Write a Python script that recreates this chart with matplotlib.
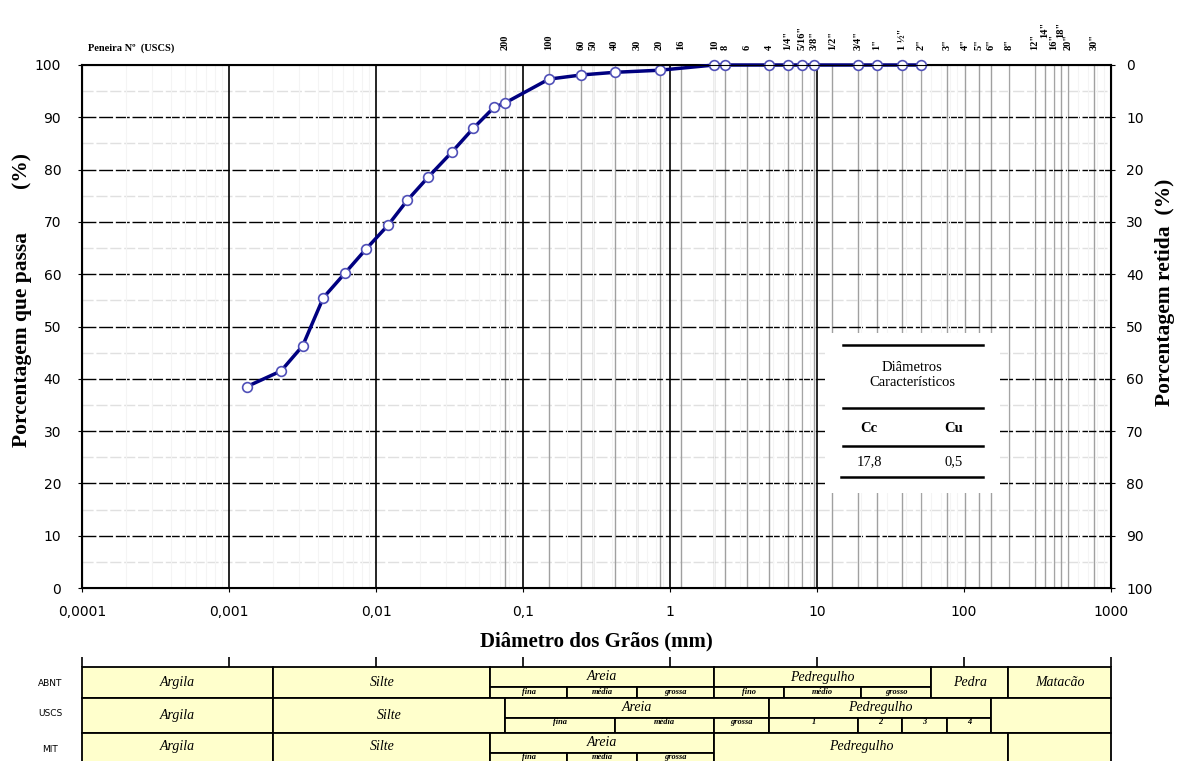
import numpy as np
import matplotlib
matplotlib.use('Agg')
import matplotlib.pyplot as plt
from matplotlib.patches import Rectangle
from matplotlib.ticker import NullFormatter, LogLocator

# curva granulométrica
diam = [0.00132, 0.00226, 0.00317, 0.00438, 0.00615, 0.00855, 0.0121, 0.0163,
        0.0227, 0.0327, 0.0459, 0.0635, 0.075, 0.15, 0.25, 0.42, 0.85, 2.0,
        2.36, 4.75, 6.35, 7.94, 9.5, 19.1, 25.4, 38.1, 50.8]
passa = [38.5, 41.5, 46.3, 55.5, 60.2, 64.8, 69.4, 74.1, 78.6, 83.3, 87.9, 91.9,
         92.7, 97.3, 98.1, 98.6, 99.0, 100, 100, 100, 100, 100, 100, 100, 100, 100, 100]

# peneiras
peneira_mm = [0.075, 0.15, 0.25, 0.30, 0.42, 0.60, 0.85, 1.18, 2.0, 2.36, 3.35, 4.75,
              6.35, 7.94, 9.5, 12.7, 19.1, 25.4, 38.1, 50.8, 76.2, 101.6, 127.0,
              152.4, 203.2, 304.8, 355.6, 406.4, 457.2, 508.0, 762.0]
peneira_lbl = ['200', '100', '60', '50', '40', '30', '20', '16', '10', '8', '6', '4',
               '1/4"', '5/16"', '3/8"', '1/2"', '3/4"', '1"', '1 ½"', '2"', '3"', '4"',
               '5"', '6"', '8"', '12"', '14"', '16"', '18"', '20"', '30"']
peneira_alto = ['14"', '18"']

decadas = [1e-4, 1e-3, 1e-2, 1e-1, 1, 10, 100, 1000]
decadas_lbl = ['0,0001', '0,001', '0,01', '0,1', '1', '10', '100', '1000']

cc_valor = '17,8'
cu_valor = '0,5'

# classificações
abnt_lim = [1e-4, 0.002, 0.06, 2.0, 60, 200, 1000]
abnt_nome = ['Argila', 'Silte', 'Areia', 'Pedregulho', 'Pedra', 'Matacão']
abnt_sub = {2: ([0.06, 0.2, 0.6, 2.0], ['fina', 'média', 'grossa']),
            3: ([2.0, 6.0, 20, 60], ['fino', 'médio', 'grosso'])}

uscs_lim = [1e-4, 0.002, 0.075, 4.75, 152.4, 1000]
uscs_nome = ['Argila', 'Silte', 'Areia', 'Pedregulho', '']
uscs_sub = {2: ([0.075, 0.42, 2.0, 4.75], ['fina', 'média', 'grossa']),
            3: ([4.75, 19.1, 38.1, 76.2, 152.4], ['1', '2', '3', '4'])}

mit_lim = [1e-4, 0.002, 0.06, 2.0, 200, 1000]
mit_nome = ['Argila', 'Silte', 'Areia', 'Pedregulho', '']
mit_sub = {2: ([0.06, 0.2, 0.6, 2.0], ['fina', 'média', 'grossa'])}

plt.rcParams['font.family'] = 'DejaVu Sans'
SERIF = 'Liberation Serif'

W, H = 1179, 761
fig = plt.figure(figsize=(W / 100, H / 100), dpi=100)


def fx(px):
    return px / W


def fy(py):
    return 1 - py / H


ax = fig.add_axes([fx(82), fy(588), fx(1111) - fx(82), fy(65) - fy(588)])
ax.set_xscale('log')
ax.set_xlim(1e-4, 1e3)
ax.set_ylim(0, 100)

ax.xaxis.set_minor_locator(LogLocator(subs=np.arange(2, 10)))
ax.xaxis.set_minor_formatter(NullFormatter())
ax.grid(which='minor', axis='x', color='#f4f4f4', lw=0.8, zorder=0)
ax.tick_params(which='minor', length=0)

for y in range(5, 100, 10):
    ax.axhline(y, color='#e0e0e0', lw=1, ls=(0, (8, 2)), zorder=1)
for y in range(10, 100, 10):
    ax.axhline(y, color='black', lw=1, ls=(0, (10, 2)), zorder=1.5)
for s in peneira_mm:
    ax.axvline(s, color='#a0a0a0', lw=1, zorder=1.2)
for d in decadas[1:-2]:
    ax.axvline(d, color='black', lw=1.2, zorder=1.6)

ax.plot(diam, passa, color='#000080', lw=2.5, marker='o', ms=7,
        mfc='white', mec='#5050b8', mew=1.2, zorder=4, clip_on=False)

ax.set_xticks(decadas)
ax.set_xticklabels(decadas_lbl)
ax.set_yticks(range(0, 101, 10))
ax.tick_params(which='major', direction='out', length=3, labelsize=10, colors='black')
ax.tick_params(axis='x', pad=9)
ax.tick_params(axis='y', pad=12)
for sp in ax.spines.values():
    sp.set_linewidth(1.5)

ax2 = ax.twinx()
ax2.set_ylim(100, 0)
ax2.set_yticks(range(0, 101, 10))
ax2.tick_params(direction='out', length=3, labelsize=10, pad=8)

ax.set_xlabel('Diâmetro dos Grãos (mm)', family=SERIF, fontweight='bold',
              fontsize=15, labelpad=9)
fig.text(fx(22), fy(300), 'Porcentagem que passa        (%)', family=SERIF,
         fontweight='bold', fontsize=15.5, rotation=90, ha='center', va='center')
fig.text(fx(1165), fy(292), 'Porcentagem retida  (%)', family=SERIF,
         fontweight='bold', fontsize=15.5, rotation=90, ha='center', va='center')

# rótulos das peneiras
for s, lbl in zip(peneira_mm, peneira_lbl):
    off = 19.5 if lbl in peneira_alto else 10.8
    ax.annotate(lbl, xy=(s, 100), xytext=(0, off), textcoords='offset points',
                rotation=90, ha='center', va='bottom', fontsize=7.5,
                fontweight='bold', family=SERIF, annotation_clip=False)
fig.text(fx(88), fy(48), 'Peneira Nº  (USCS)', family=SERIF, fontweight='bold',
         fontsize=7.5, ha='left', va='center')

# quadro Cc / Cu
axi = fig.add_axes([fx(825), fy(493), fx(1000) - fx(825), fy(333) - fy(493)], zorder=5)
axi.set_xlim(825, 1000)
axi.set_ylim(493, 333)
axi.set_facecolor('white')
axi.axis('off')
axi.add_patch(Rectangle((825, 333), 175, 160, color='white', zorder=0))
for yl, x0 in [(345, 843), (408, 843), (446, 843), (477, 841)]:
    axi.plot([x0, 983], [yl, yl], color='black', lw=1.8)
axi.text(912, 375, 'Diâmetros\nCaracterísticos', family=SERIF, fontsize=10.5,
         ha='center', va='center', linespacing=1.15)
axi.text(869, 428, 'Cc', family=SERIF, fontsize=10.5, fontweight='bold', ha='center', va='center')
axi.text(954, 428, 'Cu', family=SERIF, fontsize=10.5, fontweight='bold', ha='center', va='center')
axi.text(869, 462, cc_valor, family=SERIF, fontsize=10.5, ha='center', va='center')
axi.text(954, 462, cu_valor, family=SERIF, fontsize=10.5, ha='center', va='center')

# tabela de classificação
axt = fig.add_axes([fx(82), fy(768), fx(1111) - fx(82), (768 - 667) / H])
axt.set_xscale('log')
axt.set_xlim(1e-4, 1e3)
axt.set_ylim(101, 0)
for sp in axt.spines.values():
    sp.set_visible(False)
axt.set_yticks([])
axt.xaxis.tick_top()
axt.set_xticks(decadas)
axt.xaxis.set_minor_locator(matplotlib.ticker.NullLocator())
axt.set_xticklabels([])
axt.tick_params(axis='x', direction='out', length=7, width=1.2)

linhas = [('ABNT', 0, 20, 31, abnt_lim, abnt_nome, abnt_sub),
          ('USCS', 31, 51, 66, uscs_lim, uscs_nome, uscs_sub),
          ('MIT', 66, 86, 101, mit_lim, mit_nome, mit_sub)]


def celula(x0, x1, y0, y1, txt, fs, ytxt, bold=False):
    axt.add_patch(Rectangle((x0, y0), x1 - x0, y1 - y0, facecolor='#ffffcc',
                            edgecolor='black', lw=1.3, clip_on=False))
    if txt:
        axt.text(np.sqrt(x0 * x1), ytxt, txt, family=SERIF, style='italic',
                 fontweight='bold' if bold else 'normal', fontsize=fs,
                 ha='center', va='center', clip_on=False)


for nome, y0, ys, y1, lim, nomes, subs in linhas:
    for i, txt in enumerate(nomes):
        if i in subs:
            celula(lim[i], lim[i + 1], y0, ys, txt, 10, (y0 + ys) / 2)
            sl, st = subs[i]
            for j, t in enumerate(st):
                celula(sl[j], sl[j + 1], ys, y1, t, 6, ys + 4.5, bold=True)
        else:
            celula(lim[i], lim[i + 1], y0, y1, txt, 10, (y0 + min(y1, 94)) / 2)
    fig.text(fx(50), fy(667 + (y0 + ys) / 2 + 6), nome, fontsize=6.5,
             ha='center', va='center')

fig.savefig('out.png', dpi=100)
